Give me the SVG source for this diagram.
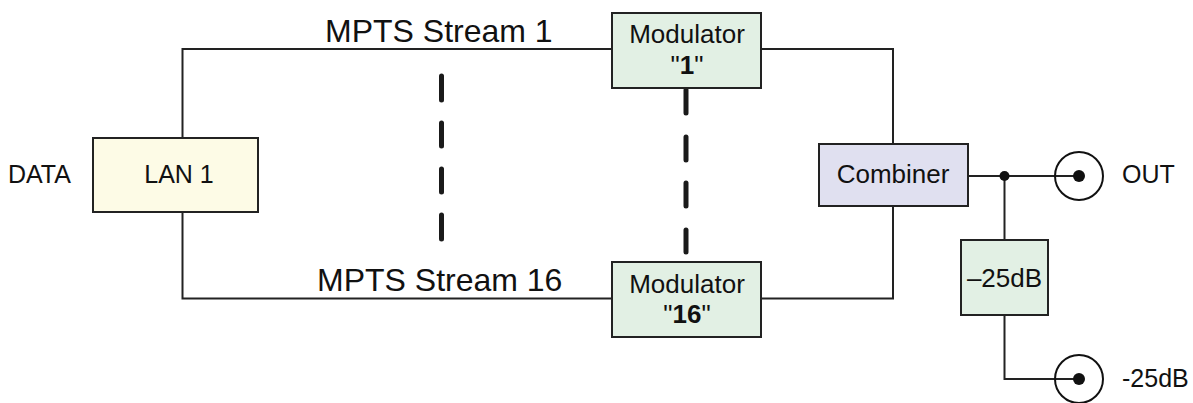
<svg xmlns="http://www.w3.org/2000/svg" width="1193" height="403" viewBox="0 0 1193 403">
<style>
  .box { stroke: #222; stroke-width: 2; }
  .wire { fill: none; stroke: #222; stroke-width: 2; }
  .dash { fill: none; stroke: #1a1a1a; stroke-width: 5; stroke-linecap: round; }
  text { font-family: "Liberation Sans", Arial, sans-serif; fill: #111; }
  .t { font-size: 25px; }
  .big { font-size: 32px; }
</style>
<rect width="1193" height="403" fill="#fff"/>
<g id="connectors">
  <polyline class="wire" points="182.5,138 182.5,49 612,49"/>
  <polyline class="wire" points="182.5,212 182.5,298.5 612,298.5"/>
  <polyline class="wire" points="761,49 893,49 893,144"/>
  <polyline class="wire" points="761,298.5 893,298.5 893,206"/>
  <line class="wire" x1="968" y1="176" x2="1079" y2="176"/>
  <line class="wire" x1="1004.5" y1="176" x2="1004.5" y2="240"/>
  <polyline class="wire" points="1004.5,315 1004.5,379 1079,379"/>
  <circle cx="1004.5" cy="176" r="5" fill="#111"/>
  <line class="dash" x1="441.5" y1="76" x2="441.5" y2="100"/>
  <line class="dash" x1="441.5" y1="123" x2="441.5" y2="146"/>
  <line class="dash" x1="441.5" y1="169" x2="441.5" y2="192"/>
  <line class="dash" x1="441.5" y1="215" x2="441.5" y2="239"/>
  <line class="dash" x1="686" y1="90" x2="686" y2="113"/>
  <line class="dash" x1="686" y1="137" x2="686" y2="160"/>
  <line class="dash" x1="686" y1="183" x2="686" y2="206"/>
  <line class="dash" x1="686" y1="230" x2="686" y2="252"/>
</g>
<g id="data-label">
  <text class="t" x="8" y="183">DATA</text>
</g>
<g id="lan1">
  <rect class="box" x="93" y="138" width="165" height="74" fill="#fdfbe6"/>
  <text class="t" x="179" y="183" text-anchor="middle">LAN 1</text>
</g>
<g id="stream1-label">
  <text class="big" x="325" y="42">MPTS Stream 1</text>
</g>
<g id="stream16-label">
  <text class="big" x="317" y="291">MPTS Stream 16</text>
</g>
<g id="modulator1">
  <rect class="box" x="612" y="13" width="149" height="75" fill="#e2f0e4"/>
  <text class="t" x="687" y="43" text-anchor="middle" style="font-size:26px">Modulator</text>
  <text class="t" x="687" y="74" text-anchor="middle" style="font-size:26px">"<tspan font-weight="bold">1</tspan>"</text>
</g>
<g id="modulator16">
  <rect class="box" x="612" y="262" width="149" height="75" fill="#e2f0e4"/>
  <text class="t" x="687" y="293" text-anchor="middle" style="font-size:26px">Modulator</text>
  <text class="t" x="687" y="323" text-anchor="middle" style="font-size:26px">"<tspan font-weight="bold">16</tspan>"</text>
</g>
<g id="combiner">
  <rect class="box" x="819" y="144" width="149" height="62" fill="#e0e0f0"/>
  <text class="t" x="893" y="183" text-anchor="middle" style="font-size:26px">Combiner</text>
</g>
<g id="attenuator">
  <rect class="box" x="961" y="240" width="87" height="75" fill="#e2f0e4"/>
  <text class="t" x="1004.5" y="287" text-anchor="middle" style="font-size:26px">–25dB</text>
</g>
<g id="out-connector">
  <circle cx="1079" cy="176" r="24" fill="none" stroke="#111" stroke-width="2"/>
  <circle cx="1079" cy="176" r="6" fill="#111"/>
  <text class="t" x="1122" y="183">OUT</text>
</g>
<g id="minus25-connector">
  <circle cx="1079" cy="379" r="24" fill="none" stroke="#111" stroke-width="2"/>
  <circle cx="1079" cy="379" r="6" fill="#111"/>
  <text class="t" x="1122" y="387">-25dB</text>
</g>
</svg>
